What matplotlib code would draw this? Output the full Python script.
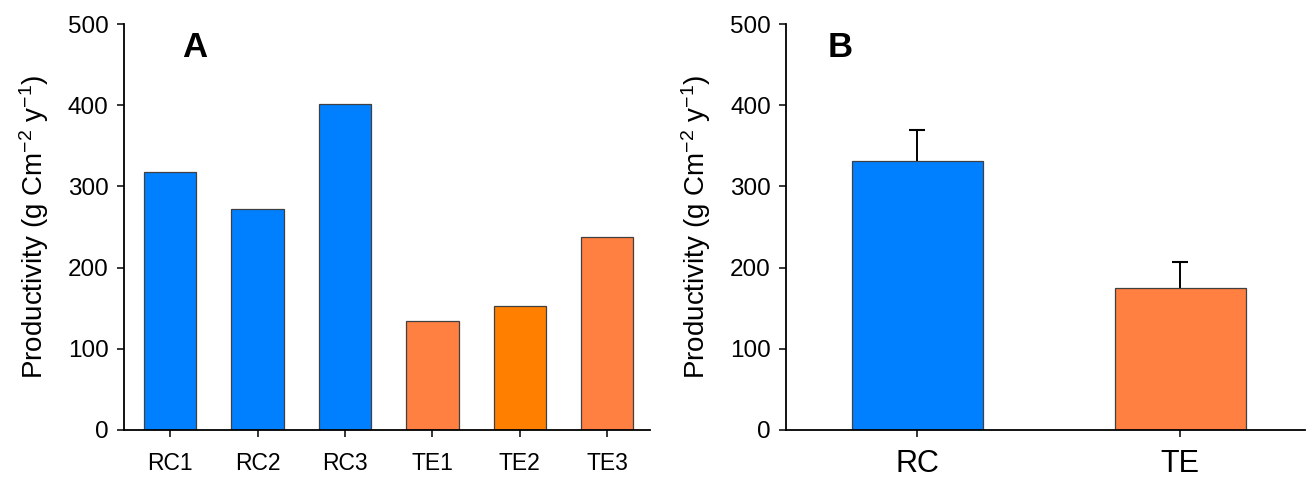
import matplotlib
matplotlib.use("Agg")
import matplotlib.pyplot as plt

plt.rcParams['font.family'] = ['Liberation Sans', 'DejaVu Sans']
plt.rcParams['mathtext.fontset'] = 'custom'
plt.rcParams['mathtext.rm'] = 'Liberation Sans'
plt.rcParams['mathtext.default'] = 'regular'

# Panel A data
sites = ["RC1", "RC2", "RC3", "TE1", "TE2", "TE3"]
site_values = [318, 272, 401, 134, 153, 238]
site_colors = ["#0080FF", "#0080FF", "#0080FF", "#FF8040", "#FF8000", "#FF8040"]

# Panel B data
groups = ["RC", "TE"]
group_means = [331, 175]
group_err = [38, 32]
group_colors = ["#0080FF", "#FF8040"]

yticks = [0, 100, 200, 300, 400, 500]
ylabel = "Productivity (g Cm$^{-2}$ y$^{-1}$)"

fig = plt.figure(figsize=(13.09, 4.84), dpi=100)
axA = fig.add_axes([0.0947, 0.1116, 0.4019, 0.8388])
axB = fig.add_axes([0.6005, 0.1116, 0.3965, 0.8388])

def style(ax):
    for s in ["top", "right"]:
        ax.spines[s].set_visible(False)
    for s in ["left", "bottom"]:
        ax.spines[s].set_linewidth(1.3)
    ax.set_ylim(0, 500)
    ax.set_yticks(yticks)
    ax.tick_params(axis='y', direction='out', length=5, width=1.1, labelsize=17.5, pad=6)
    ax.tick_params(axis='x', direction='out', length=5, width=1.1, pad=11)
    ax.set_ylabel(ylabel, fontsize=20, labelpad=12)

xa = list(range(len(sites)))
axA.bar(xa, site_values, width=0.6, color=site_colors, edgecolor="#404040", linewidth=0.9)
axA.set_xticks(xa)
axA.set_xticklabels(sites)
axA.set_xlim(-0.53, 5.49)
style(axA)
axA.tick_params(axis='x', labelsize=16.5)
axA.text(0.135, 0.943, "A", transform=axA.transAxes, fontsize=25, fontweight='bold', va='center', ha='center')

xb = list(range(len(groups)))
axB.errorbar(xb, [m + e / 2 for m, e in zip(group_means, group_err)], yerr=[e / 2 for e in group_err],
             fmt='none', ecolor='black', elinewidth=1.4, capsize=0, zorder=1)
axB.plot(xb, [m + e for m, e in zip(group_means, group_err)], linestyle='none', marker='_',
         markersize=11, markeredgewidth=1.5, color='black', zorder=1)
axB.bar(xb, group_means, width=0.5, color=group_colors, edgecolor="#404040", linewidth=0.9, zorder=2)
axB.set_xticks(xb)
axB.set_xticklabels(groups)
axB.set_xlim(-0.5, 1.475)
style(axB)
axB.tick_params(axis='x', labelsize=22, pad=9)
axB.text(0.104, 0.943, "B", transform=axB.transAxes, fontsize=25, fontweight='bold', va='center', ha='center')

fig.savefig("out.png", dpi=100)
